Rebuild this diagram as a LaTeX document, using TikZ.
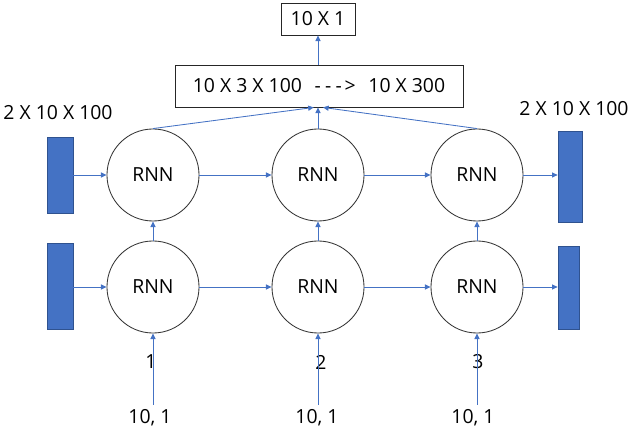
\documentclass[tikz,border=0pt]{standalone}
\usepackage{fontspec}
\setmainfont{Open Sans}
\usepackage{tikz}
\usetikzlibrary{arrows.meta,calc,positioning}
\usepackage{xcolor}
\definecolor{lineblue}{HTML}{4472C4}
\definecolor{barblue}{HTML}{4472C4}
\definecolor{baredge}{HTML}{2F528F}

\begin{document}
\begin{tikzpicture}[x=0.025cm, y=-0.025cm,
  every node/.style={font=\fontsize{13.8}{16}\selectfont},
  rnn/.style={draw=black!80, circle, minimum size=2.3cm, inner sep=0pt, line width=0.6pt},
  bar/.style={fill=barblue, draw=baredge, line width=0.5pt, inner sep=0pt},
  dimbox/.style={draw=black!85, line width=0.6pt, inner sep=0pt},
  arr/.style={draw=lineblue, line width=0.6pt, -{Triangle[length=4pt,width=3.6pt]}}]
  \useasboundingbox (0,0) rectangle (640,439);
  % output side
  \node[dimbox, minimum width=1.85cm, minimum height=0.8cm] (out) at (318,19) {10 X 1};
  \node[dimbox, minimum width=7.2cm, minimum height=1.05cm] (cat) at (319,86)
    {10 X 3 X 100\hspace{9pt}-\hspace{3pt}-\hspace{3pt}-\hspace{2pt}>\hspace{9pt}10 X 300};
  % rnn cells, two layers x three steps
  \foreach \i/\x/\n/\s in {1/153/151/150, 2/318/321/317, 3/477/478/473} {
    \node[rnn] (top\i) at (\x,175) {RNN};
    \node[rnn] (bot\i) at (\x,287) {RNN};
    \node (in\i) at (\s,418) {10, 1};
    \node (num\i) at (\n,362) {\i};
  }
  % hidden state bars
  \node[bar, minimum width=0.65cm, minimum height=1.9cm] (hinA) at (60,175) {};
  \node[bar, minimum width=0.65cm, minimum height=2.15cm] (hinB) at (60,286) {};
  \node[bar, minimum width=0.6cm, minimum height=2.275cm] (houtA) at (570,176.5) {};
  \node[bar, minimum width=0.525cm, minimum height=2.075cm] (houtB) at (568.5,287.5) {};
  \node (lblL) at (58,113) {2 X 10 X 100};
  \node (lblR) at (574,109) {2 X 10 X 100};
  % connectors
  \draw[arr] (hinA.east |- top1) -- (top1.west);
  \draw[arr] (hinB.east |- bot1) -- (bot1.west);
  \draw[arr] (top1) -- (top2);
  \draw[arr] (top2) -- (top3);
  \draw[arr] (bot1) -- (bot2);
  \draw[arr] (bot2) -- (bot3);
  \draw[arr] (top3.east) -- (houtA.west |- top3);
  \draw[arr] (bot3.east) -- (houtB.west |- bot3);
  \foreach \i in {1,2,3} {
    \draw[arr] (bot\i.north) -- (top\i.south);
    \draw[arr] (bot\i.south |- in\i.north) -- (bot\i.south);
  }
  \draw[arr] (top1.north) -- ([xshift=-0.13cm]cat.south);
  \draw[arr] (top2.north) -- (top2.north |- cat.south);
  \draw[arr] (top3.north) -- ([xshift=0.1cm]cat.south);
  \draw[arr] (cat.north -| out.south) -- (out.south);
\end{tikzpicture}
\end{document}
